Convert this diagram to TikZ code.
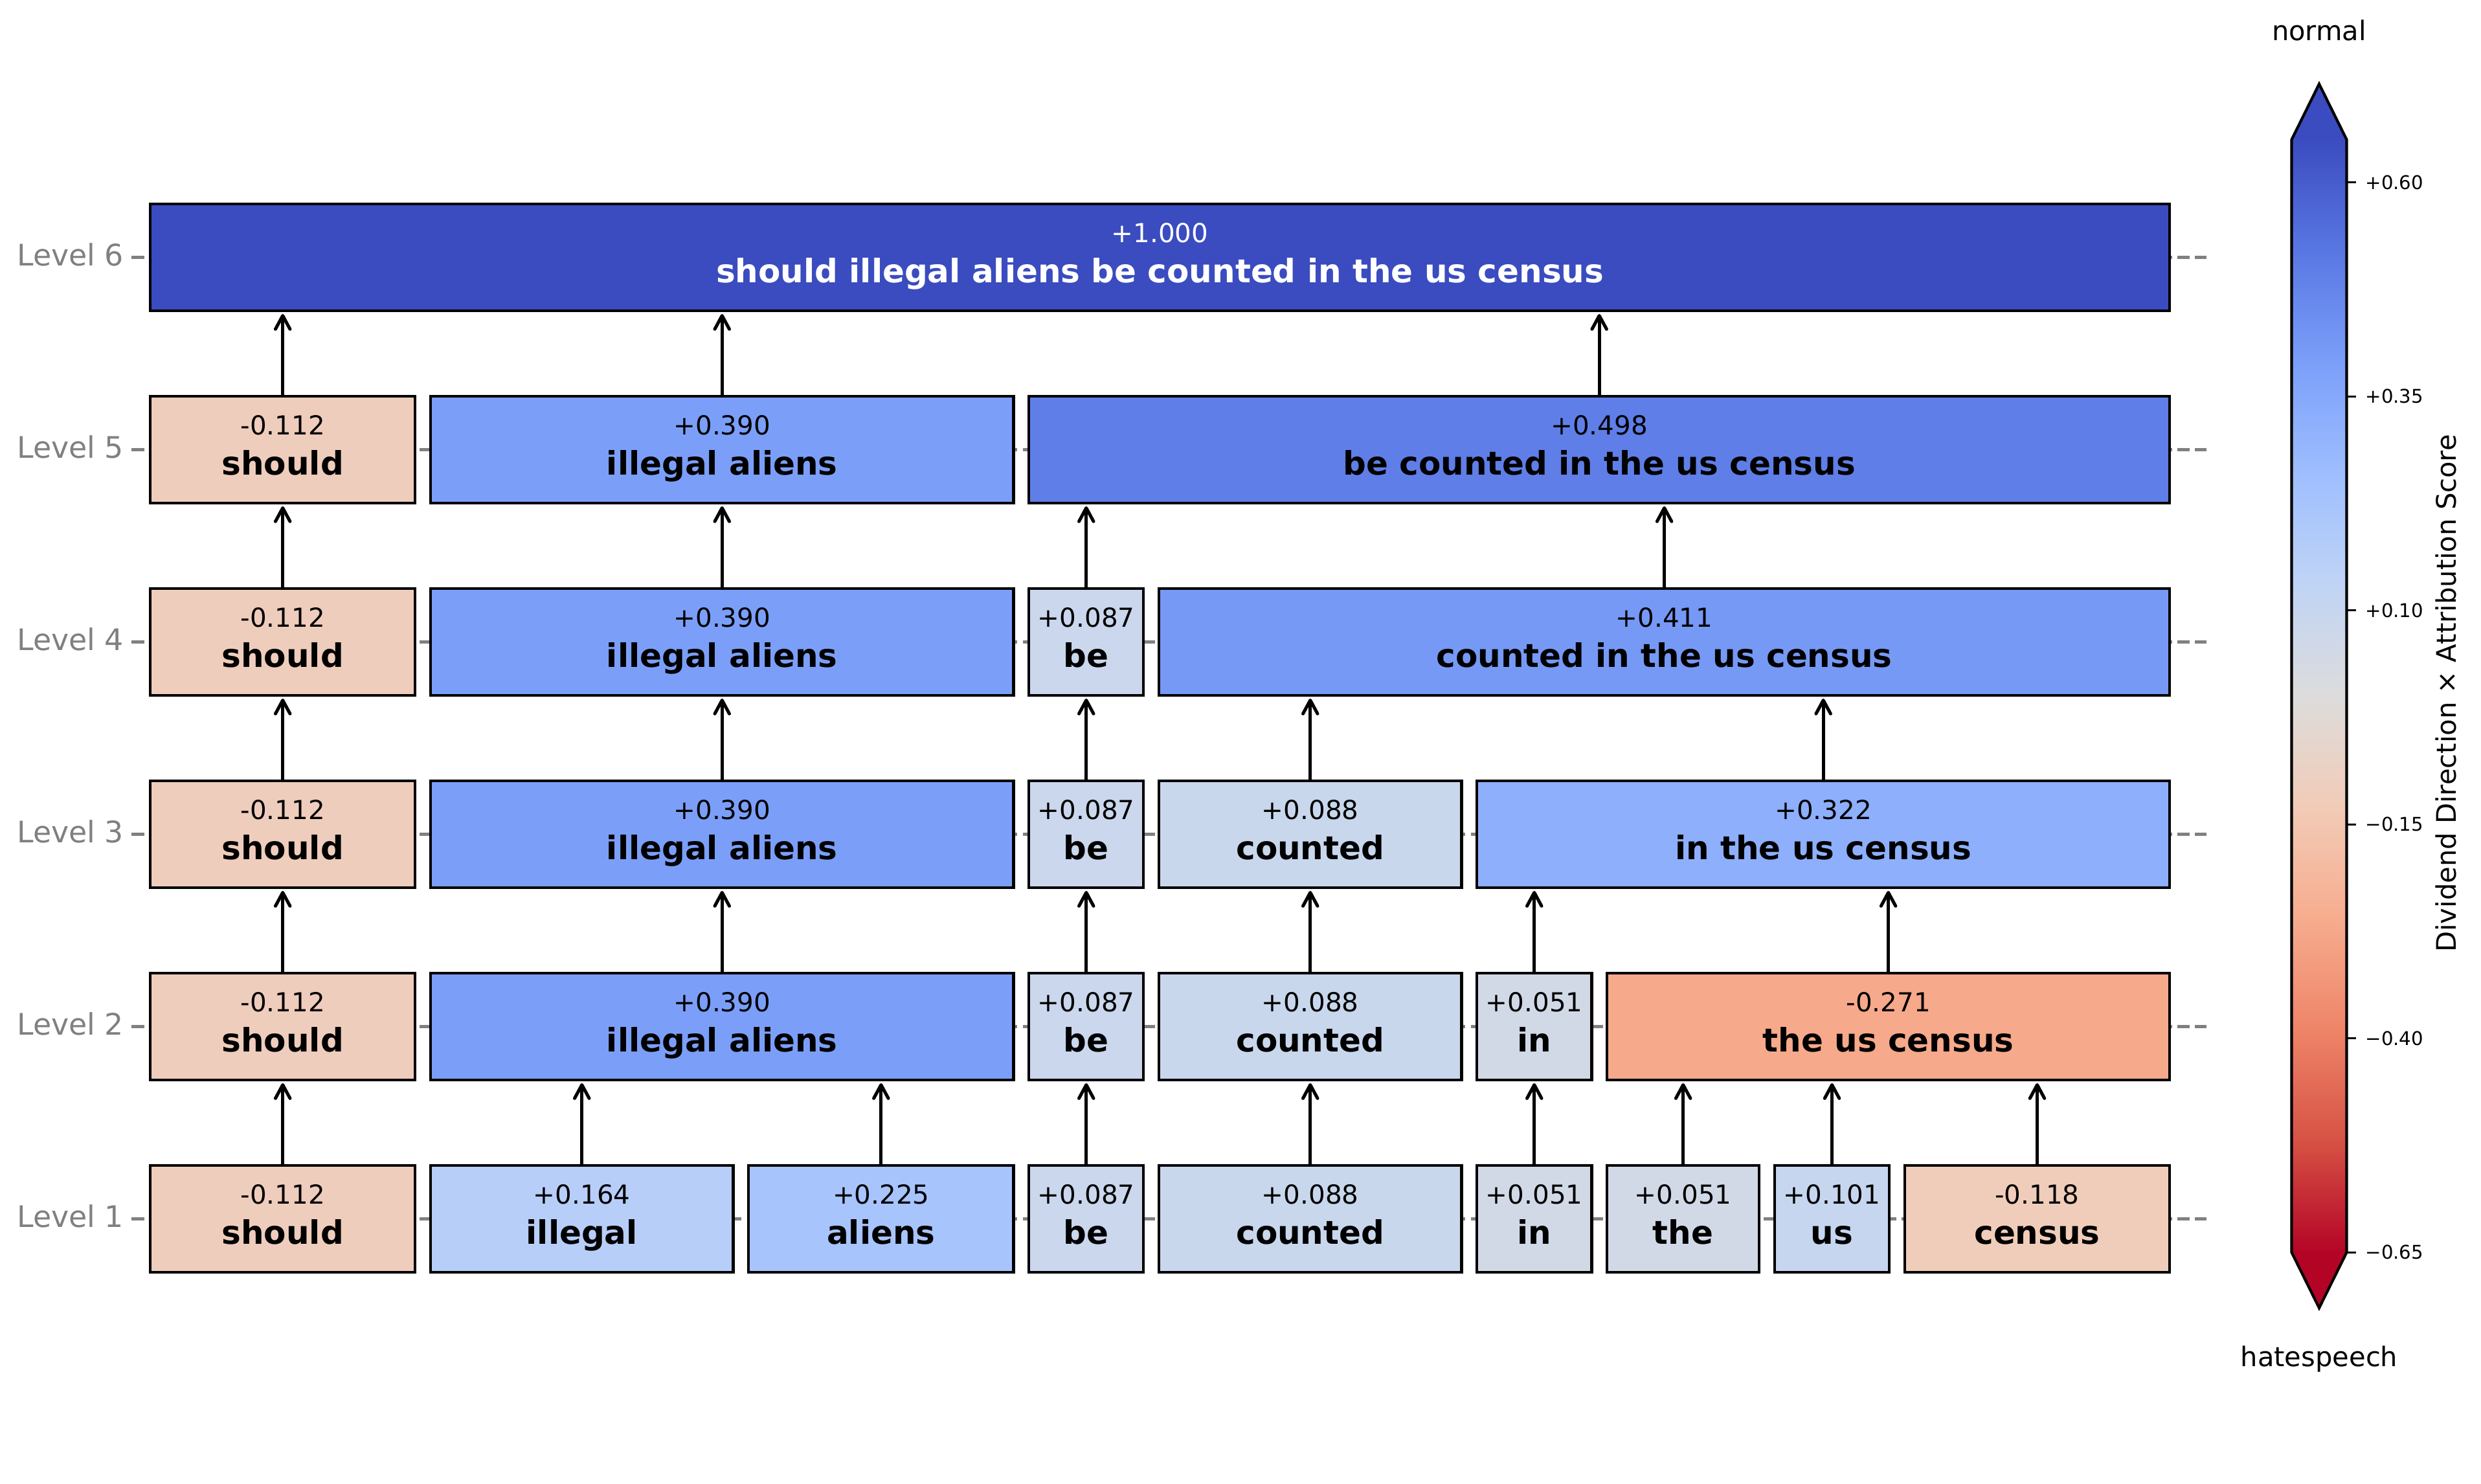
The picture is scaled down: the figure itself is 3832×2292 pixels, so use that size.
\documentclass[tikz,border=0pt]{standalone}
\usepackage{fontspec}
\setmainfont{DejaVu Sans}
\usepackage{xcolor}
\usepackage{tikz}
\usetikzlibrary{arrows.meta, positioning}
% box fills (coolwarm, reversed)
\definecolor{vM271}{HTML}{F6A98B}
\definecolor{vM118}{HTML}{F0CDBA}
\definecolor{vM112}{HTML}{EFCDBC}
\definecolor{vP051}{HTML}{D2D9E6}
\definecolor{vP087}{HTML}{CAD7ED}
\definecolor{vP088}{HTML}{C9D7ED}
\definecolor{vP101}{HTML}{C6D6EF}
\definecolor{vP164}{HTML}{B7CEF8}
\definecolor{vP225}{HTML}{A7C4FC}
\definecolor{vP322}{HTML}{8DAFFC}
\definecolor{vP390}{HTML}{7B9FF9}
\definecolor{vP411}{HTML}{7699F6}
\definecolor{vP498}{HTML}{5F7EE7}
\definecolor{vP1000}{HTML}{3B4CC0}
% colorbar stops, top to bottom
\definecolor{cw0}{HTML}{3B4CC0}
\definecolor{cw1}{HTML}{5977E3}
\definecolor{cw2}{HTML}{7B9FF9}
\definecolor{cw3}{HTML}{9EBEFF}
\definecolor{cw4}{HTML}{C0D4F5}
\definecolor{cw5}{HTML}{DDDCDC}
\definecolor{cw6}{HTML}{F2CBB7}
\definecolor{cw7}{HTML}{F7AC8E}
\definecolor{cw8}{HTML}{EE8468}
\definecolor{cw9}{HTML}{D65244}
\definecolor{cw10}{HTML}{B40426}

\begin{document}
\begin{tikzpicture}[x=0.24pt, y=-0.24pt,
    every node/.style={inner sep=0pt, outer sep=0pt},
    tok/.style={draw, line width=1pt, minimum height=39.6pt},
    val/.style={anchor=base, font=\fontsize{9.7}{11}\selectfont},
    wrd/.style={anchor=base, font=\fontsize{12}{14}\selectfont\bfseries},
    lvl/.style={anchor=base east, text=gray, font=\fontsize{11}{13}\selectfont},
    up/.style={-{Straight Barb[length=5pt,width=5.4pt,round]}, line width=1.2pt, shorten >=1.2pt},
    guide/.style={draw=gray, line width=1.15pt, dash pattern=on 4.37pt off 2.02pt, dash phase=2.47pt}]
\useasboundingbox (0,0) rectangle (3832,2292);

% level guides
\foreach \k/\cy in {1/1882.5,2/1585.5,3/1288.5,4/991.5,5/694.5,6/397.5}{
    \draw[guide] (232,\cy) -- (3416.6,\cy);
    \draw[gray, line width=1.2pt] (203,\cy) -- (223,\cy);
    \node[lvl] (lvl\k) at (191,{\cy+13}) {Level \k};
}

% token boxes
\foreach \k/\cy/\row in {
    1/1882.5/{should/232/641.4/-0.112/should/vM112/black,
              illegal/665/1132.5/+0.164/illegal/vP164/black,
              aliens/1156.1/1565.5/+0.225/aliens/vP225/black,
              be/1589.1/1766.4/+0.087/be/vP087/black,
              counted/1790/2257.5/+0.088/counted/vP088/black,
              in/2281.1/2458.4/+0.051/in/vP051/black,
              the/2482/2717.3/+0.051/the/vP051/black,
              us/2740.9/2918.2/+0.101/us/vP101/black,
              census/2941.8/3351.2/-0.118/census/vM118/black},
    2/1585.5/{should/232/641.4/-0.112/should/vM112/black,
              ia/665/1565.5/+0.390/illegal aliens/vP390/black,
              be/1589.1/1766.4/+0.087/be/vP087/black,
              counted/1790/2257.5/+0.088/counted/vP088/black,
              in/2281.1/2458.4/+0.051/in/vP051/black,
              tuc/2482/3351.2/-0.271/the us census/vM271/black},
    3/1288.5/{should/232/641.4/-0.112/should/vM112/black,
              ia/665/1565.5/+0.390/illegal aliens/vP390/black,
              be/1589.1/1766.4/+0.087/be/vP087/black,
              counted/1790/2257.5/+0.088/counted/vP088/black,
              ituc/2281.1/3351.2/+0.322/in the us census/vP322/black},
    4/991.5/{should/232/641.4/-0.112/should/vM112/black,
             ia/665/1565.5/+0.390/illegal aliens/vP390/black,
             be/1589.1/1766.4/+0.087/be/vP087/black,
             cituc/1790/3351.2/+0.411/counted in the us census/vP411/black},
    5/694.5/{should/232/641.4/-0.112/should/vM112/black,
             ia/665/1565.5/+0.390/illegal aliens/vP390/black,
             bcituc/1589.1/3351.2/+0.498/be counted in the us census/vP498/black},
    6/397.5/{sent/232/3351.2/+1.000/should illegal aliens be counted in the us census/vP1000/white}}{
    \foreach \tk/\xl/\xr/\sc/\word/\col/\txt in \row{
        \node[tok, fill=\col, minimum width={(\xr-\xl)*0.24pt}] (L\k-\tk) at ({(\xl+\xr)/2},\cy) {};
        \node[val, text=\txt] (L\k-\tk-s) at ([yshift=5.52pt]L\k-\tk.center) {\sc};
        \node[wrd, text=\txt] (L\k-\tk-w) at ([yshift=-9.36pt]L\k-\tk.center) {\word};
    }
}

% merges
\foreach \src/\dst in {1-should/2-should, 1-illegal/2-ia, 1-aliens/2-ia, 1-be/2-be,
    1-counted/2-counted, 1-in/2-in, 1-the/2-tuc, 1-us/2-tuc, 1-census/2-tuc,
    2-should/3-should, 2-ia/3-ia, 2-be/3-be, 2-counted/3-counted, 2-in/3-ituc, 2-tuc/3-ituc,
    3-should/4-should, 3-ia/4-ia, 3-be/4-be, 3-counted/4-cituc, 3-ituc/4-cituc,
    4-should/5-should, 4-ia/5-ia, 4-be/5-bcituc, 4-cituc/5-bcituc,
    5-should/6-sent, 5-ia/6-sent, 5-bcituc/6-sent}
    \draw[up] (L\src.north) -- (L\src.north |- L\dst.south);

% colorbar
\foreach \i [evaluate=\i as \j using int(\i+1)] in {0,...,9}
    \shade[top color=cw\i, bottom color=cw\j] (3539.5,{215.6+\i*171.86}) rectangle (3624.5,{216.6+\j*171.86});
\fill[cw0] (3539.5,216) -- (3582,129.7) -- (3624.5,216) -- cycle;
\fill[cw10] (3539.5,1934.2) -- (3582,2020.1) -- (3624.5,1934.2) -- cycle;
\draw[line width=1pt] (3539.5,215.6) -- (3582,129.7) -- (3624.5,215.6) -- (3624.5,1934.2)
    -- (3582,2020.1) -- (3539.5,1934.2) -- cycle;
\foreach \lab [count=\i from 0] in {+0.60,+0.35,+0.10,−0.15,−0.40,−0.65}{
    \draw[line width=0.8pt] (3624.5,{281.7+\i*330.5}) -- (3639,{281.7+\i*330.5});
    \node[anchor=west, font=\fontsize{7}{8}\selectfont] (tick\i) at (3653.7,{281.7+\i*330.5}) {\lab};
}
\node[rotate=90, anchor=base, font=\fontsize{10}{12}\selectfont] (cblabel) at (3793,1071) {Dividend Direction × Attribution Score};
\node[anchor=base, font=\fontsize{10}{12}\selectfont] (normal) at (3582,62.3) {normal};
\node[anchor=base, font=\fontsize{10}{12}\selectfont] (hate) at (3582,2110) {hatespeech};
\end{tikzpicture}
\end{document}
